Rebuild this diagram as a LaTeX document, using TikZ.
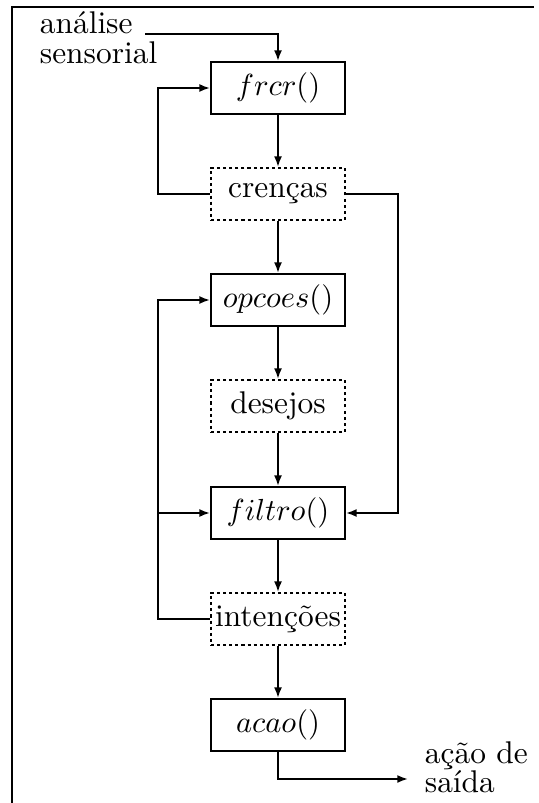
\documentclass[tikz,border=0pt]{standalone}
\usetikzlibrary{arrows.meta}
\begin{document}
\begin{tikzpicture}[x=0.328pt,y=-0.328pt,
  line width=0.6pt,
  >={Latex[length=3.5pt,width=2.6pt]},
  every node/.style={font=\fontsize{10.3}{12}\selectfont},
  proc/.style={draw, minimum width=43.95pt, minimum height=17.06pt, inner sep=0pt},
  store/.style={proc, dash pattern=on 1pt off 1pt},
  label/.style={inner sep=0pt, align=left, anchor=north west,
    font=\fontsize{10.3}{9.6}\selectfont}]
\useasboundingbox (0,0) rectangle (538,803);
% frame
\coordinate (fbl) at (12,803);
\coordinate (ftl) at (12,7);
\coordinate (ftr) at (534,7);
\draw (fbl) -- (ftl) -- (ftr);
% boxes
\node[proc]  (frcr) at (278,88)  {$frcr()$};
\node[store] (cren) at (278,194) {crenças};
\node[proc]  (opc)  at (278,300) {$opcoes()$};
\node[store] (des)  at (278,406) {desejos};
\node[proc]  (filt) at (278,513) {$filtro()$};
\node[store] (int)  at (278,619) {intenções};
\node[proc]  (acao) at (278,725) {$acao()$};
% texts
\node[label] (in)  at (39,11)  {análise\\sensorial};
\node[label] (out) at (424,741) {ação de\\saída};
% helper coordinates
\coordinate (instart) at (145,34);
\coordinate (lx1) at (158,194);
\coordinate (lx2) at (158,619);
\coordinate (lxf) at (158,513);
\coordinate (rx)  at (398,194);
\coordinate (outend) at (408,779);
% connectors
\draw[->] (instart) -| (frcr.north);
\draw[->] (frcr) -- (cren);
\draw[->] (cren) -- (opc);
\draw[->] (opc) -- (des);
\draw[->] (des) -- (filt);
\draw[->] (filt) -- (int);
\draw[->] (int) -- (acao);
\draw[->] (cren.west) -- (lx1) |- (frcr.west);
\draw[->] (int.west) -- (lx2) |- (opc.west);
\draw[->] (lxf) -- (filt.west);
\draw[->] (cren.east) -- (rx) |- (filt.east);
\draw[->] (acao.south) |- (outend);
\end{tikzpicture}
\end{document}
